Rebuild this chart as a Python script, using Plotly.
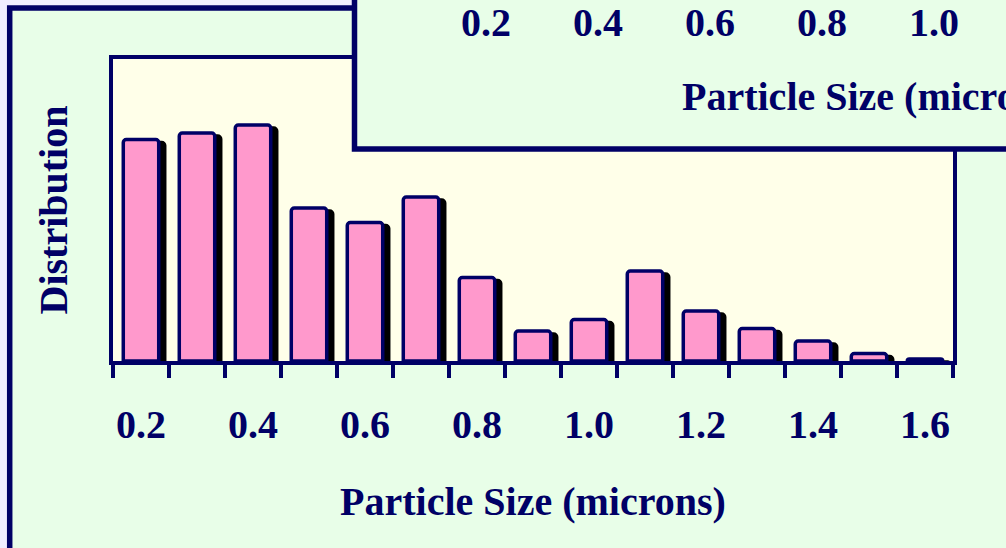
import plotly.graph_objects as go

# Particle size classes (microns) and relative distribution heights
sizes = ["0.2", "0.3", "0.4", "0.5", "0.6", "0.7", "0.8", "0.9",
         "1.0", "1.1", "1.2", "1.3", "1.4", "1.5", "1.6"]
distribution = [221.5, 228, 236, 153, 138.5, 164, 83.5, 30,
                41.5, 90, 50, 32.5, 20, 7.5, 2]
tick_labels = ["0.2", "", "0.4", "", "0.6", "", "0.8", "",
               "1.0", "", "1.2", "", "1.4", "", "1.6"]

W, H = 1006, 548
NAVY = "#000066"
PINK = "#ff99cc"
FRAME_GREEN = "#e8fee8"
PLOT_YELLOW = "#ffffe9"
PAGE = "#f0eeff"
FONT = "Liberation Serif, Times New Roman, serif"


def px(x):
    return x / W


def py(y):
    return 1 - y / H


plot_left, plot_right, plot_top, plot_bottom = 113, 953, 59, 361
cat_px = (plot_right - plot_left) / len(sizes)
bar_w = 0.633
shadow_dx = 6 / cat_px          # shadow shifted right by ~6 px
shadow_dy = 3                   # and down by ~3 px (1 data unit == 1 px)

fig = go.Figure()

# drop shadow behind each bar
fig.add_trace(go.Bar(
    x=sizes, y=distribution, base=-shadow_dy,
    width=bar_w, offset=-bar_w / 2 + shadow_dx,
    marker=dict(color="black", line=dict(color="black", width=3.5),
                cornerradius=3),
    hoverinfo="skip", showlegend=False,
))

# pink bars with navy outline
fig.add_trace(go.Bar(
    x=sizes, y=distribution,
    width=bar_w, offset=-bar_w / 2,
    marker=dict(color=PINK, line=dict(color=NAVY, width=3.5),
                cornerradius=3),
    showlegend=False,
))

shapes = [
    # outer frame of the chart panel
    dict(type="rect", xref="paper", yref="paper",
         x0=px(9.7), y0=py(8), x1=px(1300), y1=py(700),
         fillcolor=FRAME_GREEN, line=dict(color=NAVY, width=5.5),
         layer="below"),
    # plotting area fill
    dict(type="rect", xref="paper", yref="paper",
         x0=px(plot_left), y0=py(plot_bottom), x1=px(plot_right), y1=py(plot_top),
         fillcolor=PLOT_YELLOW, line=dict(width=0), layer="below"),
    # overlapping copy of the panel (lower strip visible at top right)
    dict(type="rect", xref="paper", yref="paper",
         x0=px(354.5), y0=py(149), x1=px(1700), y1=py(-500),
         fillcolor=FRAME_GREEN, line=dict(color=NAVY, width=5.5),
         layer="above"),
]

label_font = dict(family=FONT, size=40, color=NAVY, weight="bold")

annotations = []
dx_copy, dy_copy = 345, -404
for i, t in enumerate(tick_labels):
    centre = plot_left + (i + 0.5) * cat_px + dx_copy
    # only the labels of the copied panel that land on the page
    if t and centre + 30 < W:
        annotations.append(dict(
            text=t, xref="x", yref="paper", x=i, xshift=dx_copy,
            y=py(426 + dy_copy + 1), showarrow=False, font=label_font,
            xanchor="center", yanchor="middle"))
annotations.append(dict(
    text="Particle Size (microns)", xref="paper", yref="paper",
    x=px(530 + dx_copy), y=py(96.6),
    showarrow=False, font=label_font, xanchor="center", yanchor="middle"))

fig.update_layout(
    width=W, height=H, autosize=False,
    margin=dict(l=0, r=0, t=0, b=0, pad=0),
    paper_bgcolor=PAGE, plot_bgcolor="rgba(0,0,0,0)",
    barmode="overlay",
    shapes=shapes, annotations=annotations,
    font=dict(family=FONT, color=NAVY),
    xaxis=dict(
        type="category", domain=[px(plot_left), px(plot_right)],
        categoryorder="array", categoryarray=sizes,
        range=[-0.5, len(sizes) - 0.5],
        tickmode="array", tickvals=sizes, ticktext=tick_labels,
        tickangle=0,
        tickson="boundaries", ticks="outside", ticklen=13, tickwidth=3.5,
        tickcolor=NAVY, tickfont=label_font, ticklabelstandoff=25,
        showline=True, linecolor=NAVY, linewidth=4, mirror=True,
        showgrid=False, zeroline=False, automargin=False,
        title=dict(text="Particle Size (microns)", font=label_font, standoff=42),
    ),
    yaxis=dict(
        domain=[py(plot_bottom), py(plot_top)],
        range=[0, plot_bottom - plot_top],
        showticklabels=False, ticks="",
        showline=True, linecolor=NAVY, linewidth=3.5, mirror=True,
        showgrid=False, zeroline=False, automargin=False,
        title=dict(text="Distribution", font=label_font, standoff=30),
    ),
)

fig.write_html("out.html")
